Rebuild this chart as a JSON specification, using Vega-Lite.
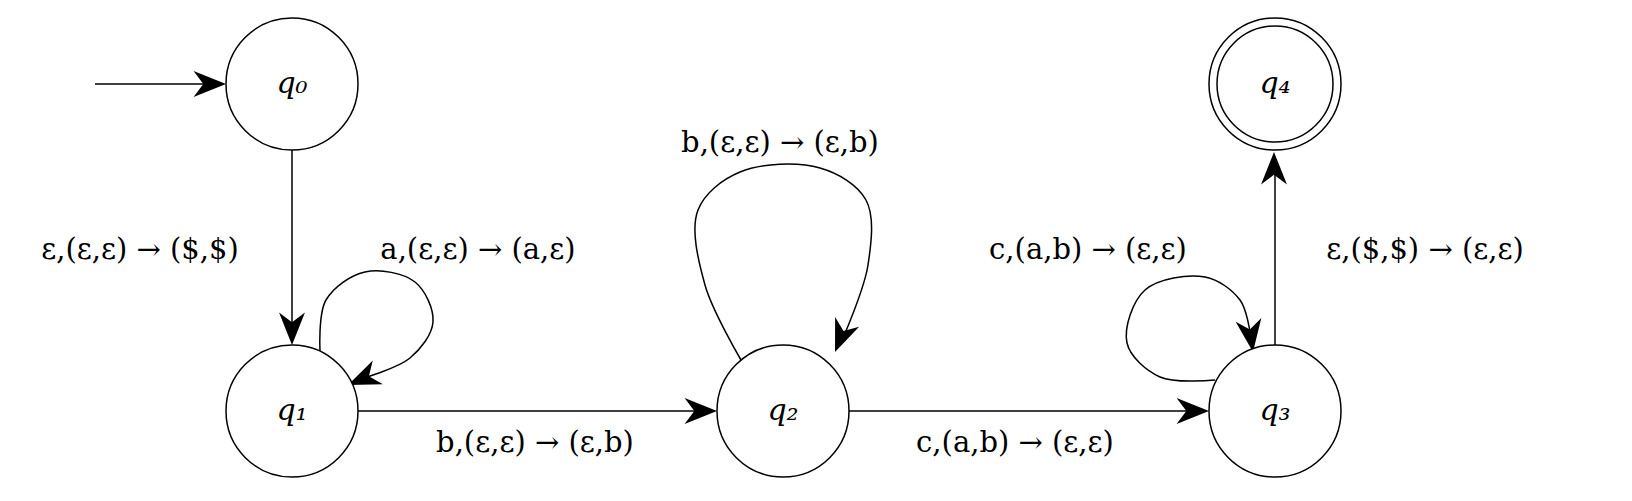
{
  "$schema": "https://vega.github.io/schema/vega-lite/v6.json",
  "autosize": {"type": "fit", "contains": "padding"},
  "width": 1632,
  "height": 501,
  "padding": 0,
  "config": {"view": {"stroke": null}},
  "datasets": {
    "nodes": [
      {"id": "q₀", "x": 292, "y": 84, "final": false},
      {"id": "q₁", "x": 292, "y": 411, "final": false},
      {"id": "q₂", "x": 783, "y": 411, "final": false},
      {"id": "q₃", "x": 1275, "y": 411, "final": false},
      {"id": "q₄", "x": 1275, "y": 84, "final": true}
    ],
    "edges": [
      {"e": "start", "s": 0, "x": 95, "y": 84},
      {"e": "start", "s": 1, "x": 215, "y": 84},
      {"e": "q0q1", "s": 0, "x": 292, "y": 150},
      {"e": "q0q1", "s": 1, "x": 292, "y": 335},
      {"e": "q1q2", "s": 0, "x": 358, "y": 411},
      {"e": "q1q2", "s": 1, "x": 706, "y": 411},
      {"e": "q2q3", "s": 0, "x": 849, "y": 411},
      {"e": "q2q3", "s": 1, "x": 1198, "y": 411},
      {"e": "q3q4", "s": 0, "x": 1275, "y": 345},
      {"e": "q3q4", "s": 1, "x": 1275, "y": 175},
      {"e": "l1", "s": 0, "x": 320, "y": 352},
      {"e": "l1", "s": 1, "x": 326, "y": 300},
      {"e": "l1", "s": 2, "x": 365, "y": 272},
      {"e": "l1", "s": 3, "x": 415, "y": 282},
      {"e": "l1", "s": 4, "x": 433, "y": 322},
      {"e": "l1", "s": 5, "x": 410, "y": 358},
      {"e": "l1", "s": 6, "x": 360, "y": 379},
      {"e": "l2", "s": 0, "x": 741, "y": 360},
      {"e": "l2", "s": 1, "x": 705, "y": 285},
      {"e": "l2", "s": 2, "x": 698, "y": 210},
      {"e": "l2", "s": 3, "x": 740, "y": 172},
      {"e": "l2", "s": 4, "x": 820, "y": 168},
      {"e": "l2", "s": 5, "x": 866, "y": 200},
      {"e": "l2", "s": 6, "x": 868, "y": 265},
      {"e": "l2", "s": 7, "x": 843, "y": 338},
      {"e": "l3", "s": 0, "x": 1215, "y": 380},
      {"e": "l3", "s": 1, "x": 1160, "y": 377},
      {"e": "l3", "s": 2, "x": 1127, "y": 343},
      {"e": "l3", "s": 3, "x": 1145, "y": 290},
      {"e": "l3", "s": 4, "x": 1205, "y": 277},
      {"e": "l3", "s": 5, "x": 1240, "y": 300},
      {"e": "l3", "s": 6, "x": 1250, "y": 332}
    ],
    "arrows": [
      {"x": 226, "y": 84, "a": 0},
      {"x": 292, "y": 345, "a": 90},
      {"x": 717, "y": 411, "a": 0},
      {"x": 1209, "y": 411, "a": 0},
      {"x": 1274, "y": 152, "a": -90},
      {"x": 348, "y": 385, "a": 157},
      {"x": 835, "y": 352, "a": 112},
      {"x": 1253, "y": 352, "a": 82}
    ],
    "labels": [
      {"t": "ε,(ε,ε) → ($,$)", "x": 140, "y": 250},
      {"t": "a,(ε,ε) → (a,ε)", "x": 478, "y": 250},
      {"t": "b,(ε,ε) → (ε,b)", "x": 780, "y": 143},
      {"t": "b,(ε,ε) → (ε,b)", "x": 535, "y": 443},
      {"t": "c,(a,b) → (ε,ε)", "x": 1088, "y": 250},
      {"t": "c,(a,b) → (ε,ε)", "x": 1015, "y": 443},
      {"t": "ε,($,$) → (ε,ε)", "x": 1425, "y": 250}
    ]
  },
  "encoding": {
    "x": {"field": "x", "type": "quantitative", "scale": {"domain": [0, 1632], "nice": false, "zero": false}, "axis": null},
    "y": {"field": "y", "type": "quantitative", "scale": {"domain": [501, 0], "nice": false, "zero": false}, "axis": null}
  },
  "layer": [
    {
      "data": {"name": "edges"},
      "mark": {"type": "line", "color": "black", "strokeWidth": 1.5, "interpolate": "catmull-rom"},
      "encoding": {"detail": {"field": "e"}, "order": {"field": "s", "type": "quantitative"}}
    },
    {
      "data": {"name": "arrows"},
      "mark": {"type": "point", "filled": true, "color": "black", "opacity": 1, "size": 4200, "shape": "M0,0 L-1,-0.4 L-0.7,0 L-1,0.4 Z"},
      "encoding": {"angle": {"field": "a", "type": "quantitative", "scale": null}}
    },
    {
      "data": {"name": "nodes"},
      "mark": {"type": "point", "shape": "circle", "size": 17424, "color": "black", "strokeWidth": 1.5, "fill": "white", "filled": false, "opacity": 1},
      "encoding": {"fill": {"value": "white"}, "fillOpacity": {"value": 1}}
    },
    {
      "data": {"name": "nodes"},
      "transform": [{"filter": "datum.final"}],
      "mark": {"type": "point", "shape": "circle", "size": 13456, "color": "black", "strokeWidth": 1.5, "filled": false, "opacity": 1}
    },
    {
      "data": {"name": "nodes"},
      "mark": {"type": "text", "font": "DejaVu Serif", "fontStyle": "italic", "fontSize": 30, "baseline": "middle", "align": "center"},
      "encoding": {"text": {"field": "id"}}
    },
    {
      "data": {"name": "labels"},
      "mark": {"type": "text", "font": "DejaVu Serif", "fontSize": 29, "baseline": "middle", "align": "center"},
      "encoding": {"text": {"field": "t"}}
    }
  ]
}
